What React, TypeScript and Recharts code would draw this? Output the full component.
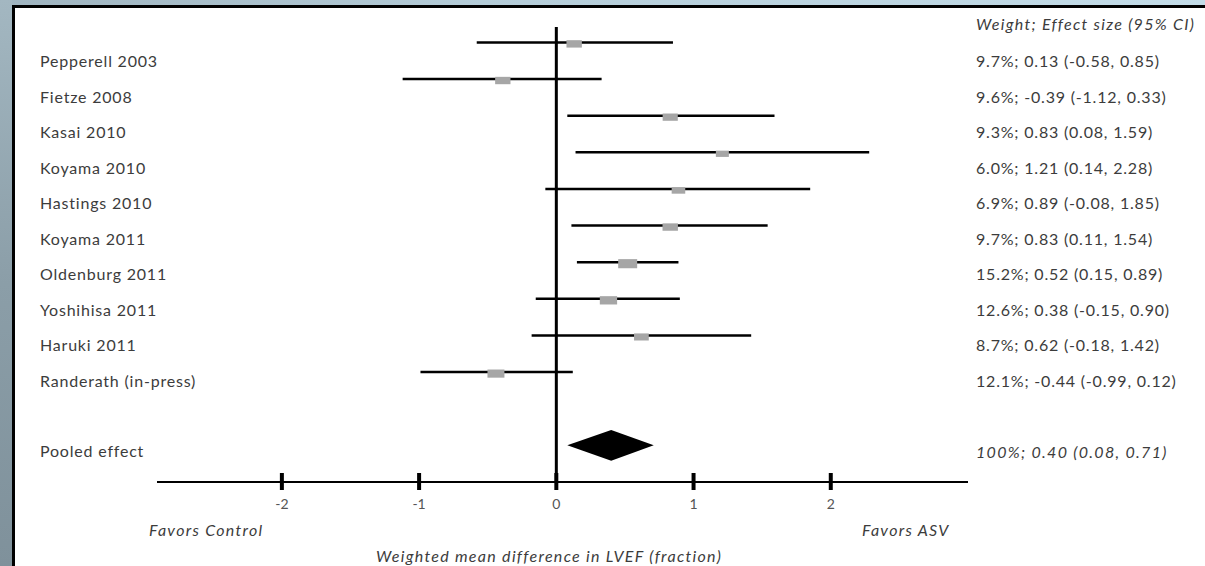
import { ComposedChart, XAxis, YAxis, Scatter, ReferenceLine } from 'recharts';

const studies = [
  'Pepperell 2003',
  'Fietze 2008',
  'Kasai 2010',
  'Koyama 2010',
  'Hastings 2010',
  'Koyama 2011',
  'Oldenburg 2011',
  'Yoshihisa 2011',
  'Haruki 2011',
  'Randerath (in-press)',
];
const weights = [9.7, 9.6, 9.3, 6.0, 6.9, 9.7, 15.2, 12.6, 8.7, 12.1];
const effects = [0.13, -0.39, 0.83, 1.21, 0.89, 0.83, 0.52, 0.38, 0.62, -0.44];
const lower = [-0.58, -1.12, 0.08, 0.14, -0.08, 0.11, 0.15, -0.15, -0.18, -0.99];
const upper = [0.85, 0.33, 1.59, 2.28, 1.85, 1.54, 0.89, 0.9, 1.42, 0.12];

const pooledLabel = 'Pooled effect';
const pooled = { weight: 100, effect: 0.4, lower: 0.08, upper: 0.71 };

const xTicks = [-2, -1, 0, 1, 2];

const W = 1205;
const H = 566;
const POOLED_ROW = 11;
const DIAMOND_HALF = 0.42;
const TEXT = '#3c3c3c';
const FONT = 'Lato, "Open Sans", sans-serif';

const fmt = (v: number) => v.toFixed(2);
const rowText = (w: number, e: number, lo: number, hi: number) =>
  `${w.toFixed(1)}%; ${fmt(e)} (${fmt(lo)}, ${fmt(hi)})`;

const markers = studies.map((name, i) => ({ name, x: effects[i], y: i, w: weights[i] }));
const diamond = [
  { x: pooled.lower, y: POOLED_ROW },
  { x: pooled.effect, y: POOLED_ROW - DIAMOND_HALF },
  { x: pooled.upper, y: POOLED_ROW },
  { x: pooled.effect, y: POOLED_ROW + DIAMOND_HALF },
];

const AxisTick = (props: any) => {
  const { x, y, payload } = props;
  return (
    <g>
      <line x1={x} x2={x} y1={y - 9} y2={y + 8} stroke="#000" strokeWidth={4} />
      <text x={x} y={y + 23} textAnchor="middle" dominantBaseline="middle" fill="#555" fontSize={14} fontFamily={FONT}>
        {payload.value}
      </text>
    </g>
  );
};

const Box = (props: any) => {
  const { cx, cy, payload } = props;
  const w = 13 + (payload.w - 6) * 0.65;
  const h = w * 0.48;
  return <rect x={cx - w / 2} y={cy - h / 2 + 1.5} width={w} height={h} fill="#a6a6a6" />;
};

const Diamond = (props: any) => {
  const pts = (props.points || []).map((p: any) => `${p.x},${p.y}`).join(' ');
  return <polygon points={pts} fill="#000" stroke="none" />;
};

const rowY = (i: number) => 61 + 35.5 * i;

const plain = { position: 'absolute' as const, fontSize: 16, lineHeight: '20px', color: TEXT, whiteSpace: 'nowrap' as const, letterSpacing: 0.8 };
const ital = { ...plain, fontStyle: 'italic' as const, letterSpacing: 1.3 };

export default function App() {
  return (
    <div
      style={{
        position: 'absolute',
        left: 0,
        top: 0,
        width: W,
        height: H,
        overflow: 'hidden',
        fontFamily: FONT,
        background: 'linear-gradient(90deg, #9fb4bf 0%, #b4ccd8 40%, #c3dce8 100%)',
      }}
    >
      <div
        style={{
          position: 'absolute',
          left: 0,
          top: 0,
          width: 12,
          height: H,
          background: 'linear-gradient(180deg, #a3b7c1 0%, #8b9ea8 50%, #7f919b 100%)',
        }}
      />
      <div
        style={{
          position: 'absolute',
          left: 12,
          top: 5,
          width: W - 12,
          height: H - 5,
          background: '#fff',
          borderLeft: '3px solid #000',
          borderTop: '3px solid #000',
          boxSizing: 'border-box',
        }}
      />

      <div style={{ position: 'absolute', left: 0, top: 0 }}>
        <ComposedChart width={W} height={H} margin={{ top: 27, right: 237, bottom: 0, left: 157 }}>
          <XAxis
            type="number"
            dataKey="x"
            domain={[-2.91, 3.0]}
            allowDataOverflow
            ticks={xTicks}
            height={84}
            tickSize={0}
            tickMargin={0}
            tickLine={false}
            axisLine={{ stroke: '#000', strokeWidth: 2 }}
            tick={<AxisTick />}
          />
          <YAxis type="number" dataKey="y" domain={[-0.42, 12]} reversed hide allowDataOverflow />
          <ReferenceLine x={0} stroke="#000" strokeWidth={3} />
          {studies.map((s, i) => (
            <ReferenceLine
              key={s}
              segment={[
                { x: lower[i], y: i },
                { x: upper[i], y: i },
              ]}
              stroke="#000"
              strokeWidth={2.5}
            />
          ))}
          <Scatter data={markers} shape={<Box />} isAnimationActive={false} />
          <Scatter
            data={diamond}
            shape={() => <g />}
            line={(p: any) => <Diamond {...p} />}
            lineType="joint"
            isAnimationActive={false}
          />
        </ComposedChart>
      </div>

      {studies.map((s, i) => (
        <div key={s} style={{ ...plain, left: 40, top: rowY(i) - 10 }}>
          {s}
        </div>
      ))}
      <div style={{ ...plain, left: 40, top: 441 }}>{pooledLabel}</div>

      <div style={{ ...ital, left: 976, top: 14 }}>Weight; Effect size (95% CI)</div>
      {studies.map((s, i) => (
        <div key={s + '-r'} style={{ ...plain, left: 976, top: rowY(i) - 10 }}>
          {rowText(weights[i], effects[i], lower[i], upper[i])}
        </div>
      ))}
      <div style={{ ...ital, left: 976, top: 442 }}>
        {`${pooled.weight}%; ${fmt(pooled.effect)} (${fmt(pooled.lower)}, ${fmt(pooled.upper)})`}
      </div>

      <div style={{ ...ital, left: 149, top: 520 }}>Favors Control</div>
      <div style={{ ...ital, left: 862, top: 520 }}>Favors ASV</div>
      <div style={{ ...ital, left: 376, top: 546 }}>Weighted mean difference in LVEF (fraction)</div>
    </div>
  );
}
